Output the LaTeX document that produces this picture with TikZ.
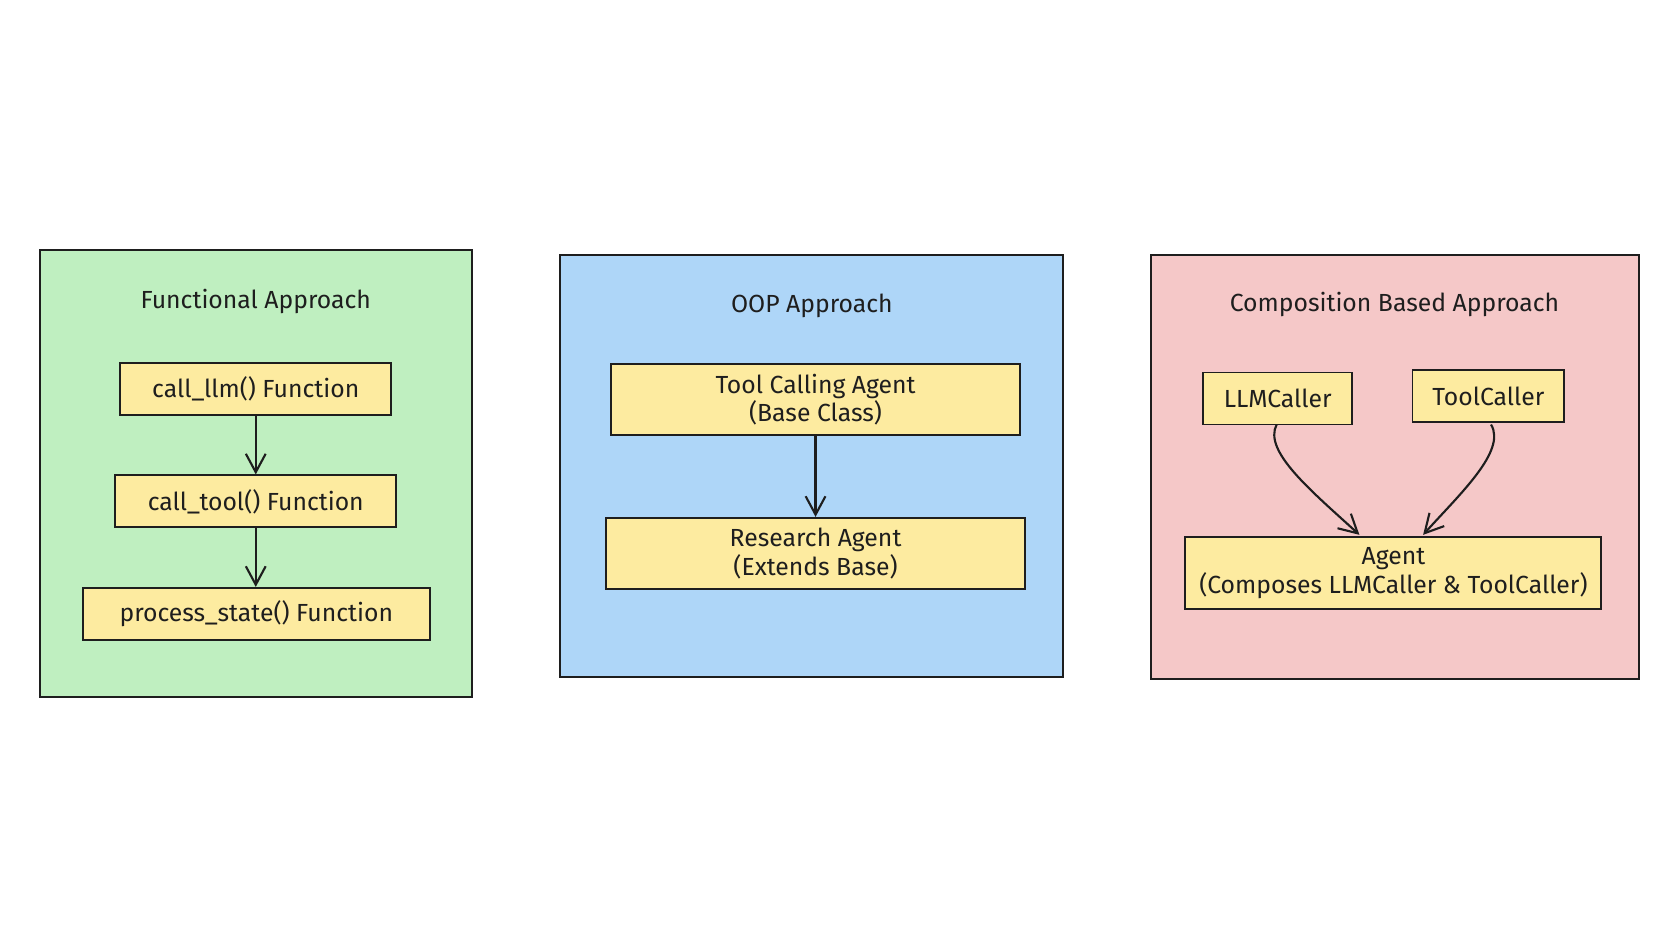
\documentclass[tikz,border=0pt]{standalone}
\usepackage{fontspec}
\setmainfont{Fira Sans}
\usetikzlibrary{arrows.meta}
\definecolor{ink}{HTML}{1E1E1E}
\definecolor{greenbg}{HTML}{BFEFC0}
\definecolor{bluebg}{HTML}{AED6F8}
\definecolor{pinkbg}{HTML}{F5C8C8}
\definecolor{boxfill}{HTML}{FDEBA0}
\tikzset{
  panel/.style={draw=ink, line width=1.4pt, inner sep=0pt},
  itembox/.style={draw=ink, fill=boxfill, line width=1.4pt, inner sep=0pt},
  title/.style={font=\fontsize{17.5}{21}\selectfont, text=ink},
  label/.style={font=\fontsize{17.5}{20}\selectfont, text=ink, align=center},
  conn/.style={draw=ink, line width=1.5pt, -{Straight Barb[length=13pt,width=14pt,line width=1.5pt]}},
}
\begin{document}
\begin{tikzpicture}[x=0.75pt,y=-0.75pt]
\useasboundingbox (0,0) rectangle (1568,893.3);
\fill[white] (0,0) rectangle (1568,893.3);
% panels
\node[panel, fill=greenbg, minimum width=407*0.75pt, minimum height=421*0.75pt] (pg) at (241.5,446.5) {};
\node[panel, fill=bluebg, minimum width=474*0.75pt, minimum height=398*0.75pt] (pb) at (765,439) {};
\node[panel, fill=pinkbg, minimum width=459*0.75pt, minimum height=400*0.75pt] (pp) at (1314.5,440) {};
% titles
\node[title] (tg) at (241,284) {Functional Approach};
\node[title] (tb) at (765,288) {OOP Approach};
\node[title] (tp) at (1314,287) {Composition Based Approach};
% functional boxes
\node[itembox, minimum width=255*0.75pt, minimum height=49*0.75pt] (f1) at (241,366.5) {};
\node[label] (f1t) at (f1) {call\_llm() Function};
\node[itembox, minimum width=265*0.75pt, minimum height=49*0.75pt] (f2) at (241,472.5) {};
\node[label] (f2t) at (f2) {call\_tool() Function};
\node[itembox, minimum width=327*0.75pt, minimum height=49*0.75pt] (f3) at (241.5,578.5) {};
\node[label] (f3t) at (f3) {process\_state() Function};
\draw[conn] (f1.south) -- (f1.south |- f2.north);
\draw[conn] (f2.south) -- (f2.south |- f3.north);
% OOP boxes
\node[itembox, minimum width=385*0.75pt, minimum height=67*0.75pt] (o1) at (768.5,376.5) {};
\node[label] (o1t) at (o1) {Tool Calling Agent\\(Base Class)};
\node[itembox, minimum width=395*0.75pt, minimum height=67*0.75pt] (o2) at (768.5,521.5) {};
\node[label] (o2t) at (o2) {Research Agent\\(Extends Base)};
\draw[conn] (o1.south) -- (o2.north);
% composition boxes
\node[itembox, minimum width=140*0.75pt, minimum height=49*0.75pt] (c1) at (1204,375.5) {};
\node[label] (c1t) at (c1) {LLMCaller};
\node[itembox, minimum width=143*0.75pt, minimum height=49*0.75pt] (c2) at (1402.5,373.5) {};
\node[label] (c2t) at (c2) {ToolCaller};
\node[itembox, minimum width=392*0.75pt, minimum height=68*0.75pt] (c3) at (1313,540) {};
\node[label] (c3t) at (c3) {Agent\\(Composes LLMCaller \& ToolCaller)};
\coordinate (s1) at (1203,400);
\coordinate (s2) at (1405,400);
\coordinate (a1) at (1281,504);
\coordinate (a2) at (1341,504);
\draw[conn] (s1) .. controls (1190,425) and (1235,462) .. (a1);
\draw[conn] (s2) .. controls (1420,425) and (1375,466) .. (a2);
\end{tikzpicture}
\end{document}
